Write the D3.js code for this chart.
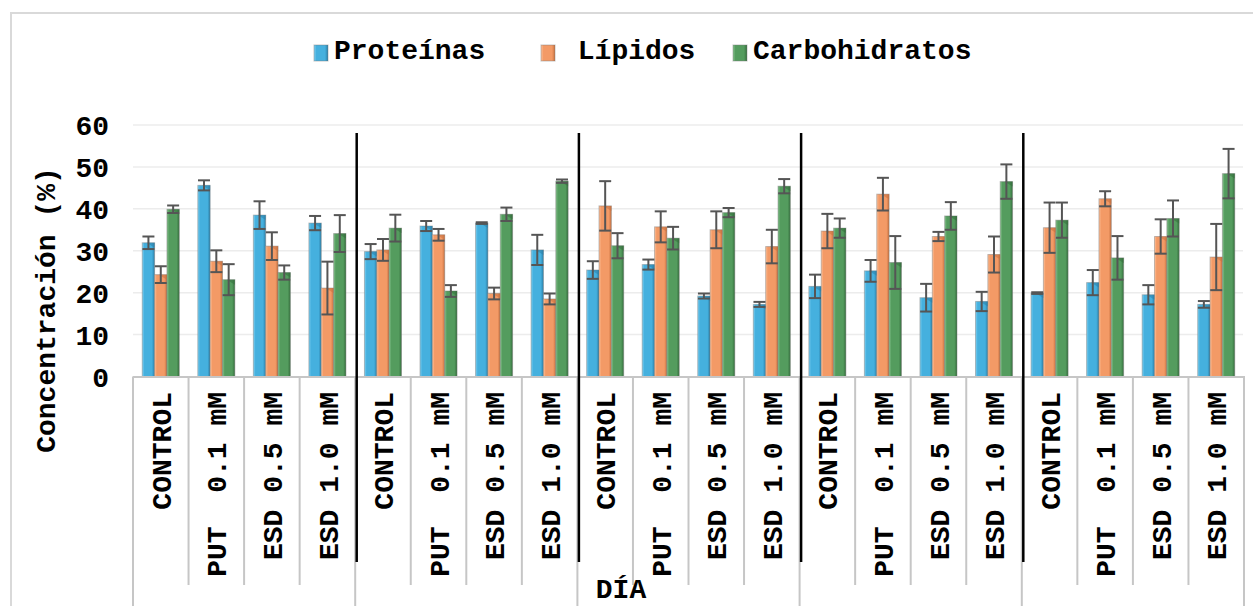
<!DOCTYPE html>
<html>
<head>
<meta charset="utf-8">
<script src="https://cdn.jsdelivr.net/npm/d3@7"></script>
<style>
  html, body { margin: 0; padding: 0; background: #ffffff; }
  svg { display: block; }
  text { font-family: "Courier New", "Liberation Mono", monospace; font-weight: bold; fill: #000; white-space: pre; }
</style>
</head>
<body>
<svg id="chart" width="1253" height="606"></svg>
<script>
// Treatments repeated inside each day block
const treatments = ["CONTROL", "PUT  0.1 mM", "ESD 0.5 mM", "ESD 1.0 mM"];
// Day blocks on the outer axis level (no visible labels)
const dayGroups = ["", "", "", "", ""];
const seriesNames = ["Proteínas", " Lípidos", "Carbohidratos"];
const yTicks = [0, 10, 20, 30, 40, 50, 60];

// Mean values (%) for each day block x treatment
const proteinas = [31.9, 45.6, 38.5, 36.6, 29.8, 35.9, 36.6, 30.2, 25.4, 26.7, 19.2, 17.2, 21.5, 25.2, 18.8, 17.9, 19.9, 22.4, 19.5, 17.2];
const lipidos = [24.3, 27.5, 31.1, 21.1, 30.2, 33.8, 19.8, 18.5, 40.7, 35.7, 35.0, 31.0, 34.7, 43.5, 33.4, 29.1, 35.5, 42.4, 33.4, 28.5];
const carbohidratos = [39.9, 23.1, 24.8, 34.1, 35.4, 20.4, 38.7, 46.6, 31.2, 33.0, 39.1, 45.4, 35.4, 27.2, 38.3, 46.5, 37.3, 28.3, 37.7, 48.4];

// Standard deviations
const errProteinas = [1.5, 1.2, 3.3, 1.7, 1.8, 1.2, 0.2, 3.6, 2.1, 1.2, 0.6, 0.6, 2.8, 2.6, 3.3, 2.3, 0.2, 3.0, 2.3, 0.8];
const errLipidos = [2.0, 2.6, 3.3, 6.3, 2.6, 1.4, 1.4, 1.3, 5.9, 3.7, 4.4, 4.0, 4.1, 3.9, 1.1, 4.3, 6.0, 1.8, 4.1, 7.9];
const errCarbohidratos = [0.9, 3.7, 1.7, 4.4, 3.2, 1.4, 1.6, 0.4, 3.0, 2.7, 1.1, 1.7, 2.3, 6.3, 3.3, 4.1, 4.2, 5.2, 4.3, 5.9];

const seriesValues = [proteinas, lipidos, carbohidratos];
const seriesErrors = [errProteinas, errLipidos, errCarbohidratos];
const palette = [
  { light: "#7fd0f2", base: "#45b0de", dark: "#2b7fa8" },
  { light: "#ffc29a", base: "#f39a66", dark: "#c8713f" },
  { light: "#86c38d", base: "#549c5e", dark: "#356e3d" }
];

const svg = d3.select("#chart");
const defs = svg.append("defs");
palette.forEach((c, i) => {
  const g = defs.append("linearGradient").attr("id", "bev" + i)
    .attr("x1", "0").attr("x2", "1").attr("y1", "0").attr("y2", "0");
  g.append("stop").attr("offset", "0%").attr("stop-color", c.light);
  g.append("stop").attr("offset", "18%").attr("stop-color", c.base);
  g.append("stop").attr("offset", "78%").attr("stop-color", c.base);
  g.append("stop").attr("offset", "100%").attr("stop-color", c.dark);
});

// Outer chart frame
svg.append("rect").attr("x", 11).attr("y", 13).attr("width", 1400).attr("height", 800)
  .attr("fill", "none").attr("stroke", "#d9d9d9").attr("stroke-width", 2);

const nCat = dayGroups.length * treatments.length;
const plotLeft = 133, plotRight = 1244, plotTop = 125, plotBottom = 376.5;

const x = d3.scaleBand().domain(d3.range(nCat)).range([plotLeft, plotRight]).padding(0);
const y = d3.scaleLinear().domain([0, 60]).range([plotBottom, plotTop]);
const inner = d3.scaleBand().domain(d3.range(seriesNames.length))
  .range([x.bandwidth() * 0.1665, x.bandwidth() * 0.8335]).padding(0);

// Gridlines
svg.append("g").selectAll("line").data(yTicks.filter(t => t > 0)).join("line")
  .attr("x1", plotLeft).attr("x2", plotRight - 1)
  .attr("y1", d => y(d)).attr("y2", d => y(d))
  .attr("stroke", "#ececec").attr("stroke-width", 1.5);

// Y axis labels
const yAxis = d3.axisLeft(y).tickValues(yTicks).tickSize(0).tickPadding(0);
const yg = svg.append("g").attr("transform", "translate(109,0)").call(yAxis);
yg.select(".domain").remove();
yg.selectAll("text").attr("font-size", 28).attr("dy", "0.34em")
  .style("font-family", "'Courier New', 'Liberation Mono', monospace").style("font-weight", "bold").attr("fill", "#000");

// Y axis title
svg.append("text").attr("transform", "translate(55,310) rotate(-90)")
  .attr("text-anchor", "middle").attr("font-size", 28)
  .text("Concentración (%)");

// Bars
const barData = [];
seriesValues.forEach((vals, s) => vals.forEach((v, i) => barData.push({ s, i, v, e: seriesErrors[s][i] })));

const bars = svg.append("g");
bars.selectAll("rect").data(barData).join("rect")
  .attr("x", d => x(d.i) + inner(d.s))
  .attr("y", d => y(d.v))
  .attr("width", inner.bandwidth())
  .attr("height", d => y(0) - y(d.v))
  .attr("fill", d => `url(#bev${d.s})`)
  .attr("stroke", "rgba(120,120,120,0.45)").attr("stroke-width", 1);

// Top bevel shading
bars.selectAll("path").data(barData).join("path")
  .attr("d", d => {
    const x0 = x(d.i) + inner(d.s), w = inner.bandwidth(), t = y(d.v);
    return `M${x0 + w * 0.35},${t} L${x0 + w},${t} L${x0 + w},${t + 5} Z`;
  })
  .attr("fill", d => palette[d.s].dark).attr("opacity", 0.55);

// Error bars
const eg = svg.append("g").attr("stroke", "#555555").attr("stroke-width", 2);
const cx = d => x(d.i) + inner(d.s) + inner.bandwidth() / 2;
eg.selectAll("line.v").data(barData).join("line").attr("class", "v")
  .attr("x1", cx).attr("x2", cx)
  .attr("y1", d => y(d.v + d.e)).attr("y2", d => y(Math.max(0, d.v - d.e)));
eg.selectAll("line.t").data(barData).join("line").attr("class", "t")
  .attr("x1", d => cx(d) - 6).attr("x2", d => cx(d) + 6)
  .attr("y1", d => y(d.v + d.e)).attr("y2", d => y(d.v + d.e));
eg.selectAll("line.b").data(barData).join("line").attr("class", "b")
  .attr("x1", d => cx(d) - 6).attr("x2", d => cx(d) + 6)
  .attr("y1", d => y(Math.max(0, d.v - d.e))).attr("y2", d => y(Math.max(0, d.v - d.e)));

// Category axis: baseline and separators
const axisG = svg.append("g").attr("stroke", "#c6c6c6").attr("stroke-width", 2);
axisG.append("line").attr("x1", plotLeft).attr("x2", plotRight + 1).attr("y1", plotBottom + 0.5).attr("y2", plotBottom + 0.5);
const boundaries = d3.range(nCat + 1);
const bx = k => (k < nCat ? x(k) : x(nCat - 1) + x.bandwidth());
axisG.selectAll("line.sep").data(boundaries).join("line").attr("class", "sep")
  .attr("x1", bx).attr("x2", bx)
  .attr("y1", plotBottom)
  .attr("y2", k => (k % treatments.length === 0 ? 606 : 585));

// Treatment labels
svg.append("g").selectAll("text").data(d3.range(nCat)).join("text")
  .attr("transform", i => `translate(${x(i) + x.bandwidth() / 2},392) rotate(-90)`)
  .attr("text-anchor", "end").attr("dy", "0.36em").attr("font-size", 28)
  .text(i => treatments[i % treatments.length]);

// Day block dividers
svg.append("g").selectAll("line").data(d3.range(1, dayGroups.length)).join("line")
  .attr("x1", k => bx(k * treatments.length) + 1.5).attr("x2", k => bx(k * treatments.length) + 1.5)
  .attr("y1", 133).attr("y2", 562)
  .attr("stroke", "#000").attr("stroke-width", 2.5);

// X axis title
svg.append("text").attr("x", 621).attr("y", 598).attr("text-anchor", "middle")
  .attr("font-size", 28).text("DÍA");

// Legend
const legendX = [314, 541, 733];
const lg = svg.append("g").selectAll("g").data(seriesNames).join("g")
  .attr("transform", (d, i) => `translate(${legendX[i]},0)`);
lg.append("rect").attr("x", 0).attr("y", 45).attr("width", 14).attr("height", 16)
  .attr("fill", (d, i) => `url(#bev${i})`).attr("stroke", "rgba(120,120,120,0.45)");
lg.append("text").attr("x", 20).attr("y", 58.5).attr("font-size", 28).text(d => d);
</script>
</body>
</html>
